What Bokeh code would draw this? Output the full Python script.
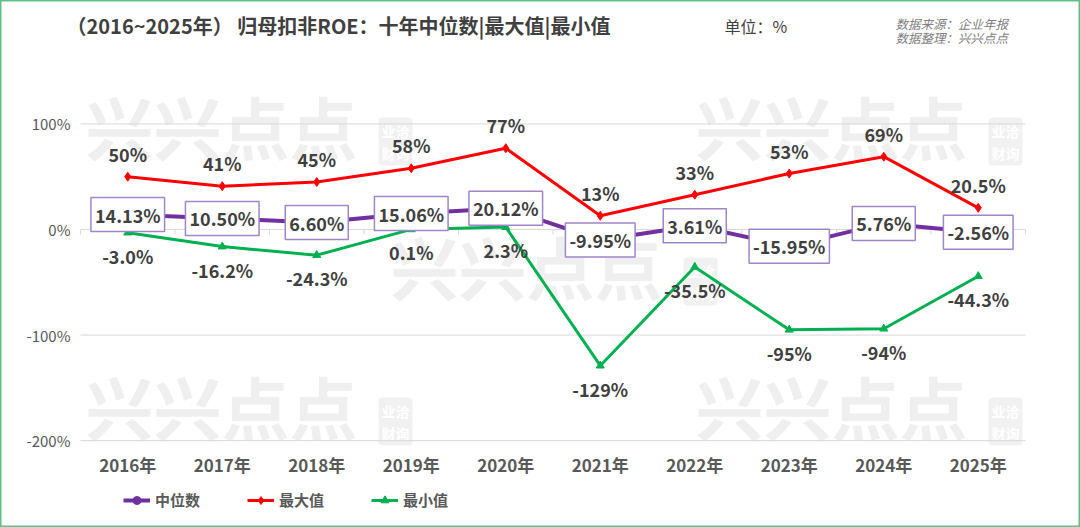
from bokeh.plotting import figure
from bokeh.models import Range1d, Label, Legend, LegendItem
from bokeh.core.properties import value
from bokeh.embed import file_html
from bokeh.resources import INLINE

FONT = "Noto Sans CJK SC"

# ---- data ----
years = ["2016年", "2017年", "2018年", "2019年", "2020年",
         "2021年", "2022年", "2023年", "2024年", "2025年"]
median = [14.13, 10.50, 6.60, 15.06, 20.12, -9.95, 3.61, -15.95, 5.76, -2.56]
maximum = [50, 41, 45, 58, 77, 13, 33, 53, 69, 20.5]
minimum = [-3.0, -16.2, -24.3, 0.1, 2.3, -129, -35.5, -95, -94, -44.3]
median_text = ["14.13%", "10.50%", "6.60%", "15.06%", "20.12%",
               "-9.95%", "3.61%", "-15.95%", "5.76%", "-2.56%"]
max_text = ["50%", "41%", "45%", "58%", "77%", "13%", "33%", "53%", "69%", "20.5%"]
min_text = ["-3.0%", "-16.2%", "-24.3%", "0.1%", "2.3%",
            "-129%", "-35.5%", "-95%", "-94%", "-44.3%"]
y_ticks = [-200, -100, 0, 100]
y_tick_text = ["-200%", "-100%", "0%", "100%"]

PURPLE = "#7030a0"
RED = "#ff0000"
GREEN = "#00b050"
GRID = "#d9d9d9"
W, H = 1080, 527
X0, Y0 = 0, 0          # where the figure sits on the page
PX_X, PX_Y = 94.5, 1.0557   # pixels per category / per percent point
LEFT, ZERO = 80, 229        # page pixel of the first category edge / of 0%


def fx(px):
    return (px - LEFT) / PX_X


def fy(py):
    return (ZERO - py) / PX_Y


# category centres on a numeric axis (one unit per year)
xs = [i + 0.5 for i in range(len(years))]
edges = list(range(len(years) + 1))

p = figure(width=W, height=H, output_backend="svg", toolbar_location=None,
           x_range=Range1d(fx(X0), fx(X0 + W)), y_range=Range1d(fy(Y0 + H), fy(Y0)),
           x_axis_type=None, y_axis_type=None, min_border=0)
p.outline_line_color = "#5cbf88"
p.outline_line_width = 2

# grid and the small ticks on the 0% line
p.segment(x0=0, x1=len(years), y0=y_ticks, y1=y_ticks, line_color=GRID, line_width=1)
p.segment(x0=edges, x1=edges, y0=0, y1=fy(ZERO + 5), line_color=GRID, line_width=1)

# axis labels
p.text(x=0, y=y_ticks, text=y_tick_text, x_offset=-10, text_align="right",
       text_baseline="middle", text_font=value(FONT), text_font_size="15px",
       text_color="#595959")
p.text(x=xs, y=y_ticks[0], text=years, y_offset=24, text_align="center",
       text_baseline="middle", text_font=value(FONT), text_font_size="17px",
       text_font_style="bold", text_color="#595959")

# watermarks
for wx, wy in [(85, 75), (695, 75), (390, 215), (85, 355), (695, 355)]:
    p.add_layout(Label(x=fx(wx), y=fy(wy), text="兴兴点点", text_align="left",
                       text_baseline="top", text_font=FONT, text_font_size="68px",
                       text_font_style="bold", text_color="#efefef", level="underlay"))
    p.add_layout(Label(x=fx(wx + 293), y=fy(wy + 42), text="业洽\n财询", text_align="left",
                       text_baseline="top", text_font=FONT, text_font_size="14px",
                       text_font_style="bold", text_color="white", text_line_height=1.1,
                       background_fill_color="#f1f1f1", padding=3, border_radius=4,
                       level="underlay"))

# lines
r_med_l = p.line(xs, median, line_color=PURPLE, line_width=4)
r_med_s = p.scatter(xs, median, marker="circle", size=7, color=PURPLE)
r_max_l = p.line(xs, maximum, line_color=RED, line_width=3)
r_max_s = p.scatter(xs, maximum, marker="diamond", size=9, color=RED)
r_min_l = p.line(xs, minimum, line_color=GREEN, line_width=3)
r_min_s = p.scatter(xs, minimum, marker="triangle", size=8, color=GREEN)

# data labels
p.text(xs, maximum, text=max_text, text_align="center", text_baseline="middle",
       y_offset=-23, text_font=value(FONT), text_font_size="18px",
       text_font_style="bold", text_color="#404040")
p.text(xs, minimum, text=min_text, text_align="center", text_baseline="middle",
       y_offset=23, text_font=value(FONT), text_font_size="18px",
       text_font_style="bold", text_color="#404040")
p.text(xs, median, text=median_text, text_align="center", text_baseline="middle",
       text_font=value(FONT), text_font_size="18px", text_font_style="bold",
       text_color="#404040", text_line_height=1.05, background_fill_color="white",
       border_line_color="#9f86c9", border_line_width=1.5, padding=4)

# legend
legend = Legend(items=[LegendItem(label="中位数", renderers=[r_med_l, r_med_s]),
                       LegendItem(label="最大值", renderers=[r_max_l, r_max_s]),
                       LegendItem(label="最小值", renderers=[r_min_l, r_min_s])],
                location=(123 - X0, Y0 + H - 510), orientation="horizontal",
                border_line_color=None, background_fill_alpha=0,
                padding=0, margin=0, spacing=47, glyph_width=27, glyph_height=20,
                label_height=20, label_standoff=5, label_text_font=FONT,
                label_text_font_size="15px", label_text_font_style="bold",
                label_text_color="#595959")
p.add_layout(legend)

# titles and notes
def note(px, py, text, size, style="normal", color="#404040"):
    p.add_layout(Label(x=fx(px), y=fy(py), text=text, text_align="left",
                       text_baseline="middle", text_font=FONT, text_font_size=size,
                       text_font_style=style, text_color=color))


note(66, 25, "（2016~2025年） 归母扣非ROE：十年中位数|最大值|最小值", "20px", "bold")
note(724, 25, "单位：%", "16px")
note(895, 23, "数据来源：企业年报", "12.5px", "italic", "#7f7f7f")
note(895, 37, "数据整理：兴兴点点", "12.5px", "italic", "#7f7f7f")

open("out.html", "w").write(file_html(p, INLINE))
